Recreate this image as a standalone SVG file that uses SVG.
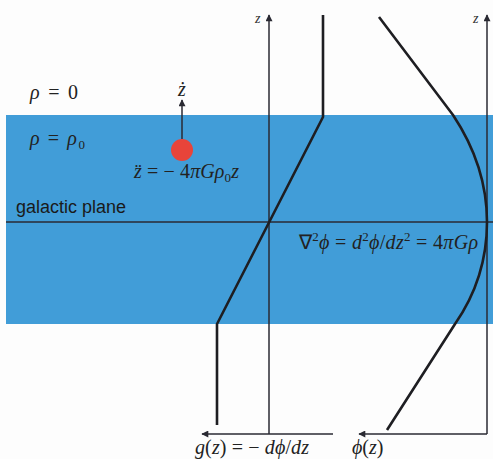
<svg xmlns="http://www.w3.org/2000/svg" width="493" height="459" viewBox="0 0 493 459">
<defs>
<marker id="ah" viewBox="0 0 10 10" refX="9" refY="5" markerWidth="8" markerHeight="7" markerUnits="userSpaceOnUse" orient="auto">
<path d="M0,0 L10,5 L0,10 z" fill="#2a2a33"/>
</marker>
<style>
.ax{stroke:#2a2a33;stroke-width:1.5;fill:none}
.cv{stroke:#1e1e22;stroke-width:2.6;fill:none;stroke-linejoin:round}
.m{font-family:"Liberation Serif","Times New Roman",serif;font-size:20px;fill:#222}
.i{font-style:italic}
.s{font-size:13px}
.lab{font-family:"Liberation Serif",serif;font-style:italic;font-size:14px;fill:#333}
.sans{font-family:"Liberation Sans",Arial,sans-serif;font-size:18px;fill:#1a1a1a}
</style>
</defs>
<rect width="493" height="459" fill="#fdfdfd"/>
<g id="band">
<rect x="6" y="115" width="487" height="209" fill="#419dd8"/>
</g>
<g id="connectors">
<line class="ax" x1="6" y1="222" x2="493" y2="222"/>
<line class="ax" x1="269" y1="434" x2="269" y2="15" marker-end="url(#ah)"/>
<line class="ax" x1="333" y1="434" x2="202" y2="434" marker-end="url(#ah)"/>
<line class="ax" x1="487" y1="434" x2="487" y2="15" marker-end="url(#ah)"/>
<line class="ax" x1="487" y1="434" x2="359" y2="434" marker-end="url(#ah)"/>
<line class="ax" x1="182" y1="139" x2="182" y2="100" marker-end="url(#ah)"/>
</g>
<g id="g-curve">
<path class="cv" d="M323,15 L323,117 L217,324 L217,425"/>
</g>
<g id="phi-curve">
<path class="cv" d="M379,17 L453,115 Q487,166 487,222 Q487,278 455,324 L387,430"/>
</g>
<g id="star">
<circle cx="182" cy="150" r="11" fill="#e8443a"/>
</g>
<g id="labels">
<text class="lab" x="255" y="23">z</text>
<text class="lab" x="473" y="23">z</text>
<text class="m i" x="182" y="96" text-anchor="middle">ż</text>
<text class="m" x="30" y="99" textLength="48"><tspan class="i">ρ</tspan> = 0</text>
<text class="m" x="30" y="145" textLength="55"><tspan class="i">ρ</tspan> = <tspan class="i">ρ</tspan><tspan class="s" dy="4">0</tspan></text>
<text class="m" x="134" y="178" textLength="105"><tspan class="i">z̈</tspan> = − 4<tspan class="i">πGρ</tspan><tspan class="s" dy="4">0</tspan><tspan class="i" dy="-4">z</tspan></text>
<text class="sans" x="16" y="213">galactic plane</text>
<text class="m" x="299" y="249" textLength="179">∇<tspan class="s" dy="-8">2</tspan><tspan class="i" dy="8">ϕ</tspan> = <tspan class="i">d</tspan><tspan class="s" dy="-8">2</tspan><tspan class="i" dy="8">ϕ</tspan>/<tspan class="i">dz</tspan><tspan class="s" dy="-8">2</tspan><tspan dy="8"> = 4</tspan><tspan class="i">πGρ</tspan></text>
<text class="m" x="195" y="454" textLength="114"><tspan class="i">g</tspan>(<tspan class="i">z</tspan>) = − <tspan class="i">d</tspan><tspan class="i">ϕ</tspan>/<tspan class="i">dz</tspan></text>
<text class="m" x="352" y="454"><tspan class="i">ϕ</tspan>(<tspan class="i">z</tspan>)</text>
</g>
</svg>
